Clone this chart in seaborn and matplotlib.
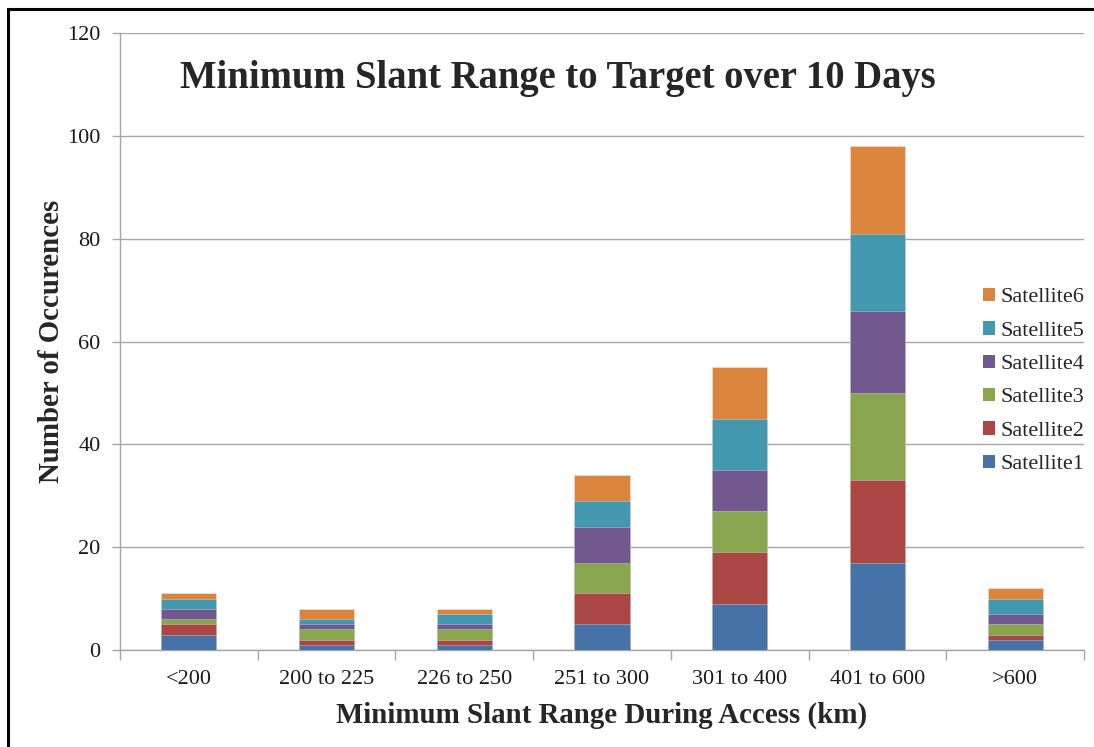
import matplotlib
matplotlib.use("Agg")
import matplotlib.pyplot as plt
import seaborn as sns
import pandas as pd
import numpy as np
from matplotlib.patches import Patch, Rectangle

categories = ["<200", "200 to 225", "226 to 250", "251 to 300", "301 to 400", "401 to 600", ">600"]
series_names = ["Satellite1", "Satellite2", "Satellite3", "Satellite4", "Satellite5", "Satellite6"]
satellite1 = [3, 1, 1, 5, 9, 17, 2]
satellite2 = [2, 1, 1, 6, 10, 16, 1]
satellite3 = [1, 2, 2, 6, 8, 17, 2]
satellite4 = [2, 1, 1, 7, 8, 16, 2]
satellite5 = [2, 1, 2, 5, 10, 15, 3]
satellite6 = [1, 2, 1, 5, 10, 17, 2]
colors = ["#4572A7", "#AA4643", "#89A54E", "#71588F", "#4198AF", "#DB843D"]

all_series = [satellite1, satellite2, satellite3, satellite4, satellite5, satellite6]

sns.set_theme(style="white")
plt.rcParams["font.family"] = ["Liberation Serif", "DejaVu Serif"]

fig = plt.figure(figsize=(10.94, 7.47), dpi=100)
ax = fig.add_axes([120 / 1094, 1 - 650 / 747, (1084 - 120) / 1094, (650 - 33) / 747])

cum = np.cumsum(np.array(all_series), axis=0)
for i in range(len(series_names) - 1, -1, -1):
    df = pd.DataFrame({"range": categories, "count": cum[i]})
    sns.barplot(data=df, x="range", y="count", order=categories, color=colors[i],
                saturation=1, width=0.4, edgecolor=(1, 1, 1, 0.35), linewidth=0.6,
                ax=ax, zorder=3, errorbar=None)

ax.set_ylim(0, 120)
ax.set_xlim(-0.5, len(categories) - 0.5)
ax.set_yticks(range(0, 121, 20))
ax.yaxis.grid(True, color="#A6A6A6", linewidth=1)
ax.set_axisbelow(True)
for s in ["top", "right"]:
    ax.spines[s].set_visible(False)
for s in ["left", "bottom"]:
    ax.spines[s].set_color("#A6A6A6")
    ax.spines[s].set_linewidth(1)

ax.set_xticks(np.arange(len(categories)))
ax.set_xticklabels(categories)
ax.set_xticks(np.arange(-0.5, len(categories)), minor=True)
ax.tick_params(axis="x", which="major", length=0, pad=14.5, labelsize=16, labelcolor="#1a1a1a")
ax.tick_params(axis="x", which="minor", length=7, width=1, color="#A6A6A6", direction="out", bottom=True)
ax.tick_params(axis="y", which="major", length=6, width=1, color="#A6A6A6", direction="out", left=True,
               pad=8, labelsize=16, labelcolor="#1a1a1a")

ax.set_xlabel("Minimum Slant Range During Access (km)", fontsize=20.8, fontweight="bold", labelpad=9)
ax.set_ylabel("Number of Occurences", fontsize=20.8, fontweight="bold", labelpad=1.5)

ax.text(0.454, 0.927, "Minimum Slant Range to Target over 10 Days", transform=ax.transAxes,
        ha="center", va="center", fontsize=27.8, fontweight="bold")

handles = [Patch(facecolor=colors[i], edgecolor="none", label=series_names[i])
           for i in range(len(series_names) - 1, -1, -1)]
ax.legend(handles=handles, loc="center left", bbox_to_anchor=(0.895, 0.436), frameon=False,
          fontsize=16, handlelength=0.55, handleheight=0.55, handletextpad=0.25, labelspacing=0.62,
          borderaxespad=0, borderpad=0)

fig.patches.append(Rectangle((8 / 1094, -0.1), 1.2, 1 - 9 / 747 + 0.1, transform=fig.transFigure,
                             fill=False, edgecolor="black", linewidth=2.2, zorder=10))

fig.savefig("out.png", dpi=100)
